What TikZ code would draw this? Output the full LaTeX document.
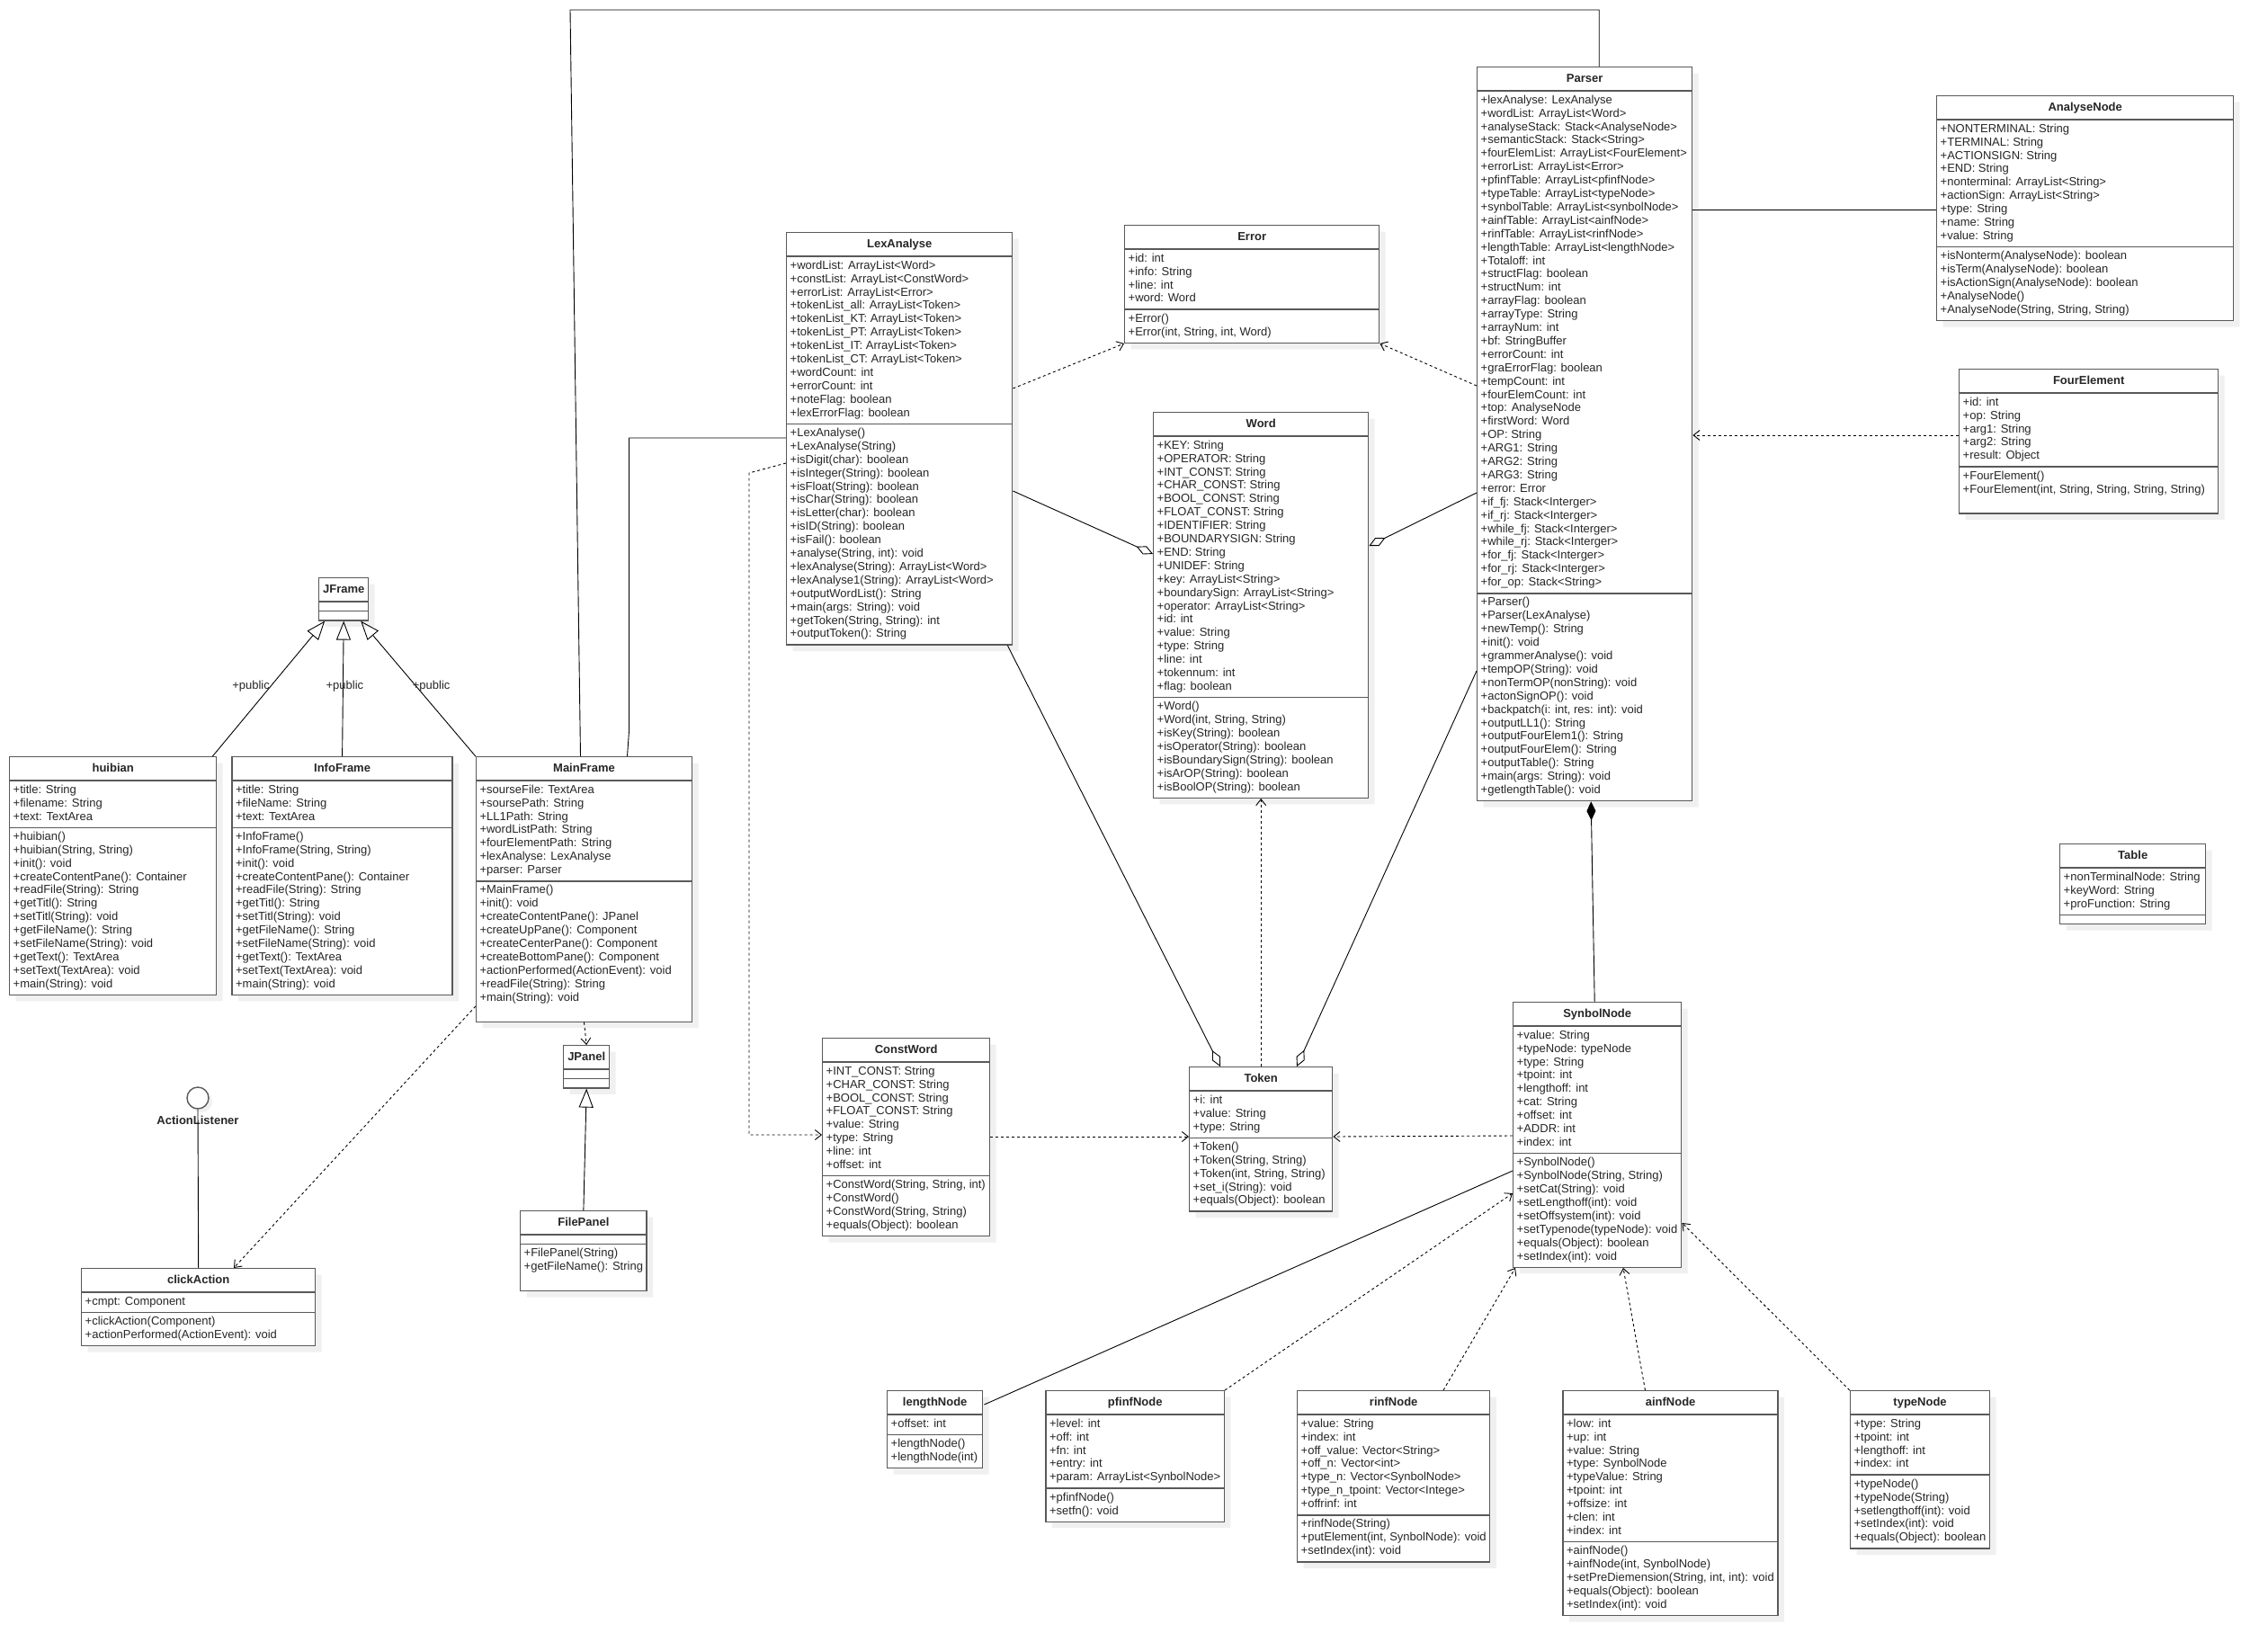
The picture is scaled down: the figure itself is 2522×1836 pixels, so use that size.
\documentclass[tikz,border=0pt]{standalone}
\usepackage{fontspec}
\setmainfont{Liberation Sans}
\usetikzlibrary{positioning,arrows.meta,shapes.multipart,shadows,calc}
\newcommand{\classtitle}[1]{\rule[-6pt]{0pt}{19pt}\textbf{#1}}
\newcommand{\emptypart}{\rule{0pt}{3pt}}
\tikzset{
  classbox/.style={
    rectangle split, rectangle split parts=3,
    rectangle split part align={center,left,left},
    draw=black!65, line width=1.4pt, fill=white,
    general shadow={fill=black!6, shadow xshift=7pt, shadow yshift=-7pt},
    text=black!85, font=\fontsize{13}{14.9}\selectfont,
    align=left, inner xsep=4pt, inner ysep=3pt, anchor=north west
  },
  iface/.style={
    circle, draw=black!65, line width=1.4pt, fill=white,
    general shadow={fill=black!6, shadow xshift=4pt, shadow yshift=-4pt},
    minimum size=24pt, inner sep=0pt
  },
  conn/.style={draw=black, line width=0.9pt},
  assoc/.style={conn},
  dep/.style={conn, dash pattern=on 3pt off 3pt, -{Straight Barb[length=7pt,width=11pt]}},
  inherit/.style={conn, -{Triangle[open,length=21pt,width=16pt]}},
  aggr/.style={conn, -{Diamond[open,length=20pt,width=10pt]}},
  comp/.style={conn, {Diamond[length=21pt,width=10pt]}-},
  lbl/.style={font=\fontsize{13}{15}\selectfont, text=black!85, inner sep=1pt}
}
\begin{document}
\begin{tikzpicture}[x=1pt, y=-1pt]
  \fill[white] (0,0) rectangle (2522,1836);
  \useasboundingbox (0,0) rectangle (2522,1836);

  \node[classbox, minimum width=239pt] (Parser) at (1642,74) {\classtitle{Parser}
    \nodepart{two}\strut+lexAnalyse: LexAnalyse\\
    +wordList: ArrayList<Word>\\
    +analyseStack: Stack<AnalyseNode>\\
    +semanticStack: Stack<String>\\
    +fourElemList: ArrayList<FourElement>\\
    +errorList: ArrayList<Error>\\
    +pfinfTable: ArrayList<pfinfNode>\\
    +typeTable: ArrayList<typeNode>\\
    +synbolTable: ArrayList<synbolNode>\\
    +ainfTable: ArrayList<ainfNode>\\
    +rinfTable: ArrayList<rinfNode>\\
    +lengthTable: ArrayList<lengthNode>\\
    +Totaloff: int\\
    +structFlag: boolean\\
    +structNum: int\\
    +arrayFlag: boolean\\
    +arrayType: String\\
    +arrayNum: int\\
    +bf: StringBuffer\\
    +errorCount: int\\
    +graErrorFlag: boolean\\
    +tempCount: int\\
    +fourElemCount: int\\
    +top: AnalyseNode\\
    +firstWord: Word\\
    +OP: String\\
    +ARG1: String\\
    +ARG2: String\\
    +ARG3: String\\
    +error: Error\\
    +if\_fj: Stack<Interger>\\
    +if\_rj: Stack<Interger>\\
    +while\_fj: Stack<Interger>\\
    +while\_rj: Stack<Interger>\\
    +for\_fj: Stack<Interger>\\
    +for\_rj: Stack<Interger>\\
    +for\_op: Stack<String>\strut
    \nodepart{three}\strut+Parser()\\
    +Parser(LexAnalyse)\\
    +newTemp(): String\\
    +init(): void\\
    +grammerAnalyse(): void\\
    +tempOP(String): void\\
    +nonTermOP(nonString): void\\
    +actonSignOP(): void\\
    +backpatch(i: int, res: int): void\\
    +outputLL1(): String\\
    +outputFourElem1(): String\\
    +outputFourElem(): String\\
    +outputTable(): String\\
    +main(args: String): void\\
    +getlengthTable(): void\strut};

  \node[classbox, minimum width=330pt] (AnalyseNode) at (2153,106) {\classtitle{AnalyseNode}
    \nodepart{two}\strut+NONTERMINAL: String\\
    +TERMINAL: String\\
    +ACTIONSIGN: String\\
    +END: String\\
    +nonterminal: ArrayList<String>\\
    +actionSign: ArrayList<String>\\
    +type: String\\
    +name: String\\
    +value: String\strut
    \nodepart{three}\strut+isNonterm(AnalyseNode): boolean\\
    +isTerm(AnalyseNode): boolean\\
    +isActionSign(AnalyseNode): boolean\\
    +AnalyseNode()\\
    +AnalyseNode(String, String, String)\strut};

  \node[classbox, minimum width=288pt] (FourElement) at (2178,410) {\classtitle{FourElement}
    \nodepart{two}\strut+id: int\\
    +op: String\\
    +arg1: String\\
    +arg2: String\\
    +result: Object\strut
    \nodepart{three}\strut+FourElement()\\
    +FourElement(int, String, String, String, String)\\
    \strut};

  \node[classbox, minimum width=162pt] (Table) at (2290,938) {\classtitle{Table}
    \nodepart{two}\strut+nonTerminalNode: String\\
    +keyWord: String\\
    +proFunction: String\strut
    \nodepart{three}\emptypart};

  \node[classbox, minimum width=283pt] (Error) at (1250,250) {\classtitle{Error}
    \nodepart{two}\strut+id: int\\
    +info: String\\
    +line: int\\
    +word: Word\strut
    \nodepart{three}\strut+Error()\\
    +Error(int, String, int, Word)\strut};

  \node[classbox, minimum width=251pt] (LexAnalyse) at (874,258) {\classtitle{LexAnalyse}
    \nodepart{two}\strut+wordList: ArrayList<Word>\\
    +constList: ArrayList<ConstWord>\\
    +errorList: ArrayList<Error>\\
    +tokenList\_all: ArrayList<Token>\\
    +tokenList\_KT: ArrayList<Token>\\
    +tokenList\_PT: ArrayList<Token>\\
    +tokenList\_IT: ArrayList<Token>\\
    +tokenList\_CT: ArrayList<Token>\\
    +wordCount: int\\
    +errorCount: int\\
    +noteFlag: boolean\\
    +lexErrorFlag: boolean\strut
    \nodepart{three}\strut+LexAnalyse()\\
    +LexAnalyse(String)\\
    +isDigit(char): boolean\\
    +isInteger(String): boolean\\
    +isFloat(String): boolean\\
    +isChar(String): boolean\\
    +isLetter(char): boolean\\
    +isID(String): boolean\\
    +isFail(): boolean\\
    +analyse(String, int): void\\
    +lexAnalyse(String): ArrayList<Word>\\
    +lexAnalyse1(String): ArrayList<Word>\\
    +outputWordList(): String\\
    +main(args: String): void\\
    +getToken(String, String): int\\
    +outputToken(): String\strut};

  \node[classbox, minimum width=239pt] (Word) at (1282,458) {\classtitle{Word}
    \nodepart{two}\strut+KEY: String\\
    +OPERATOR: String\\
    +INT\_CONST: String\\
    +CHAR\_CONST: String\\
    +BOOL\_CONST: String\\
    +FLOAT\_CONST: String\\
    +IDENTIFIER: String\\
    +BOUNDARYSIGN: String\\
    +END: String\\
    +UNIDEF: String\\
    +key: ArrayList<String>\\
    +boundarySign: ArrayList<String>\\
    +operator: ArrayList<String>\\
    +id: int\\
    +value: String\\
    +type: String\\
    +line: int\\
    +tokennum: int\\
    +flag: boolean\strut
    \nodepart{three}\strut+Word()\\
    +Word(int, String, String)\\
    +isKey(String): boolean\\
    +isOperator(String): boolean\\
    +isBoundarySign(String): boolean\\
    +isArOP(String): boolean\\
    +isBoolOP(String): boolean\strut};

  \node[classbox, minimum width=55pt] (JFrame) at (354,642) {\classtitle{JFrame}
    \nodepart{two}\emptypart
    \nodepart{three}\emptypart};

  \node[classbox, minimum width=230pt] (huibian) at (10,841) {\classtitle{huibian}
    \nodepart{two}\strut+title: String\\
    +filename: String\\
    +text: TextArea\strut
    \nodepart{three}\strut+huibian()\\
    +huibian(String, String)\\
    +init(): void\\
    +createContentPane(): Container\\
    +readFile(String): String\\
    +getTitl(): String\\
    +setTitl(String): void\\
    +getFileName(): String\\
    +setFileName(String): void\\
    +getText(): TextArea\\
    +setText(TextArea): void\\
    +main(String): void\strut};

  \node[classbox, minimum width=245pt, below right=0pt and 16pt of huibian.north east] (InfoFrame) {\classtitle{InfoFrame}
    \nodepart{two}\strut+title: String\\
    +fileName: String\\
    +text: TextArea\strut
    \nodepart{three}\strut+InfoFrame()\\
    +InfoFrame(String, String)\\
    +init(): void\\
    +createContentPane(): Container\\
    +readFile(String): String\\
    +getTitl(): String\\
    +setTitl(String): void\\
    +getFileName(): String\\
    +setFileName(String): void\\
    +getText(): TextArea\\
    +setText(TextArea): void\\
    +main(String): void\strut};

  \node[classbox, minimum width=240pt, below right=0pt and 25pt of InfoFrame.north east] (MainFrame) {\classtitle{MainFrame}
    \nodepart{two}\strut+sourseFile: TextArea\\
    +soursePath: String\\
    +LL1Path: String\\
    +wordListPath: String\\
    +fourElementPath: String\\
    +lexAnalyse: LexAnalyse\\
    +parser: Parser\strut
    \nodepart{three}\strut+MainFrame()\\
    +init(): void\\
    +createContentPane(): JPanel\\
    +createUpPane(): Component\\
    +createCenterPane(): Component\\
    +createBottomPane(): Component\\
    +actionPerformed(ActionEvent): void\\
    +readFile(String): String\\
    +main(String): void\\
    \strut};

  \node[classbox, minimum width=51pt] (JPanel) at (626,1162) {\classtitle{JPanel}
    \nodepart{two}\emptypart
    \nodepart{three}\emptypart};

  \node[classbox, minimum width=140pt] (FilePanel) at (578,1346) {\classtitle{FilePanel}
    \nodepart{two}\emptypart
    \nodepart{three}\strut+FilePanel(String)\\
    +getFileName(): String\\
    \strut};

  \node[iface] (ActionListener) at (220,1221) {};
  \node[lbl, font=\fontsize{13}{15}\selectfont\bfseries] (alName) at (220,1246) {ActionListener};

  \node[classbox, minimum width=260pt] (clickAction) at (90,1410) {\classtitle{clickAction}
    \nodepart{two}\strut+cmpt: Component\strut
    \nodepart{three}\strut+clickAction(Component)\\
    +actionPerformed(ActionEvent): void\strut};

  \node[classbox, minimum width=186pt] (ConstWord) at (914,1154) {\classtitle{ConstWord}
    \nodepart{two}\strut+INT\_CONST: String\\
    +CHAR\_CONST: String\\
    +BOOL\_CONST: String\\
    +FLOAT\_CONST: String\\
    +value: String\\
    +type: String\\
    +line: int\\
    +offset: int\strut
    \nodepart{three}\strut+ConstWord(String, String, int)\\
    +ConstWord()\\
    +ConstWord(String, String)\\
    +equals(Object): boolean\strut};

  \node[classbox, minimum width=159pt] (Token) at (1322,1186) {\classtitle{Token}
    \nodepart{two}\strut+i: int\\
    +value: String\\
    +type: String\strut
    \nodepart{three}\strut+Token()\\
    +Token(String, String)\\
    +Token(int, String, String)\\
    +set\_i(String): void\\
    +equals(Object): boolean\strut};

  \node[classbox, minimum width=187pt] (SynbolNode) at (1682,1114) {\classtitle{SynbolNode}
    \nodepart{two}\strut+value: String\\
    +typeNode: typeNode\\
    +type: String\\
    +tpoint: int\\
    +lengthoff: int\\
    +cat: String\\
    +offset: int\\
    +ADDR: int\\
    +index: int\strut
    \nodepart{three}\strut+SynbolNode()\\
    +SynbolNode(String, String)\\
    +setCat(String): void\\
    +setLengthoff(int): void\\
    +setOffsystem(int): void\\
    +setTypenode(typeNode): void\\
    +equals(Object): boolean\\
    +setIndex(int): void\strut};

  \node[classbox, minimum width=106pt] (lengthNode) at (986,1546) {\classtitle{lengthNode}
    \nodepart{two}\strut+offset: int\strut
    \nodepart{three}\strut+lengthNode()\\
    +lengthNode(int)\strut};

  \node[classbox, minimum width=198pt, below right=0pt and 69pt of lengthNode.north east] (pfinfNode) {\classtitle{pfinfNode}
    \nodepart{two}\strut+level: int\\
    +off: int\\
    +fn: int\\
    +entry: int\\
    +param: ArrayList<SynbolNode>\strut
    \nodepart{three}\strut+pfinfNode()\\
    +setfn(): void\strut};

  \node[classbox, minimum width=213pt, below right=0pt and 80pt of pfinfNode.north east] (rinfNode) {\classtitle{rinfNode}
    \nodepart{two}\strut+value: String\\
    +index: int\\
    +off\_value: Vector<String>\\
    +off\_n: Vector<int>\\
    +type\_n: Vector<SynbolNode>\\
    +type\_n\_tpoint: Vector<Intege>\\
    +offrinf: int\strut
    \nodepart{three}\strut+rinfNode(String)\\
    +putElement(int, SynbolNode): void\\
    +setIndex(int): void\strut};

  \node[classbox, minimum width=239pt, below right=0pt and 80pt of rinfNode.north east] (ainfNode) {\classtitle{ainfNode}
    \nodepart{two}\strut+low: int\\
    +up: int\\
    +value: String\\
    +type: SynbolNode\\
    +typeValue: String\\
    +tpoint: int\\
    +offsize: int\\
    +clen: int\\
    +index: int\strut
    \nodepart{three}\strut+ainfNode()\\
    +ainfNode(int, SynbolNode)\\
    +setPreDiemension(String, int, int): void\\
    +equals(Object): boolean\\
    +setIndex(int): void\strut};

  \node[classbox, minimum width=155pt, below right=0pt and 79pt of ainfNode.north east] (typeNode) {\classtitle{typeNode}
    \nodepart{two}\strut+type: String\\
    +tpoint: int\\
    +lengthoff: int\\
    +index: int\strut
    \nodepart{three}\strut+typeNode()\\
    +typeNode(String)\\
    +setlengthoff(int): void\\
    +setIndex(int): void\\
    +equals(Object): boolean\strut};

  \coordinate (topBend) at (634,11);

  \draw[inherit] ([xshift=-5pt]huibian.north east) -- node[lbl, pos=0.52, left=0pt] (pubA) {+public} ([xshift=-21pt]JFrame.south);
  \draw[inherit] (InfoFrame.north) -- node[lbl, pos=0.52, xshift=2pt] (pubB) {+public} (JFrame.south);
  \draw[inherit] (MainFrame.north west) -- node[lbl, pos=0.52, anchor=west, xshift=-5pt] (pubC) {+public} ([xshift=19pt]JFrame.south);
  \draw[assoc] ([xshift=-4pt]MainFrame.north) -- (topBend) -| ([xshift=16pt]Parser.north);
  \draw[assoc] ([xshift=48pt]MainFrame.north) -- ++(2,-28) |- ($(LexAnalyse.north west)+(0,229)$);
  \draw[dep] (MainFrame.south) -- (JPanel.north);
  \draw[inherit] (FilePanel.north) -- (JPanel.south);
  \draw[dep] ($(MainFrame.north west)+(0,278)$) -- ($(clickAction.north west)+(170,0)$);
  \draw[assoc] (ActionListener.south) -- (clickAction.north);

  \draw[dep] ($(LexAnalyse.north east)+(0,174)$) -- (Error.south west);
  \draw[aggr] ($(LexAnalyse.north east)+(0,288)$) -- ($(Word.north west)+(0,158)$);
  \draw[dep] ($(Parser.north west)+(0,355)$) -- (Error.south east);
  \draw[aggr] ($(Parser.north west)+(0,474)$) -- ($(Word.north east)+(0,149)$);
  \draw[assoc] ($(Parser.north east)+(0,159)$) -- ($(AnalyseNode.north west)+(0,127)$);
  \draw[dep] ($(FourElement.north west)+(0,74)$) -- ($(Parser.north east)+(0,410)$);
  \draw[comp] ([xshift=7pt]Parser.south) -- ([xshift=-3pt]SynbolNode.north);
  \draw[aggr] ($(LexAnalyse.south east)+(-6,0)$) -- ($(Token.north west)+(35,0)$);
  \draw[aggr] ($(Parser.north west)+(0,672)$) -- ($(Token.north west)+(120,0)$);
  \draw[dep] (Token.north) -- (Word.south);
  \draw[dep] ($(LexAnalyse.north west)+(0,257)$) -- ++(-41,11) |- ($(ConstWord.north west)+(0,108)$);
  \draw[dep] ($(ConstWord.north east)+(0,110)$) -- ($(Token.north west)+(0,78)$);
  \draw[dep] ($(SynbolNode.north west)+(0,149)$) -- ($(Token.north east)+(0,78)$);

  \draw[assoc] ($(lengthNode.north east)+(1,16)$) -- ($(SynbolNode.north west)+(0,188)$);
  \draw[dep] (pfinfNode.north east) -- ($(SynbolNode.north west)+(0,213)$);
  \draw[dep] ($(rinfNode.north west)+(163,0)$) -- ($(SynbolNode.south west)+(3,0)$);
  \draw[dep] ($(ainfNode.north west)+(92,0)$) -- ($(SynbolNode.south west)+(123,0)$);
  \draw[dep] (typeNode.north west) -- ($(SynbolNode.north east)+(0,246)$);
\end{tikzpicture}
\end{document}
